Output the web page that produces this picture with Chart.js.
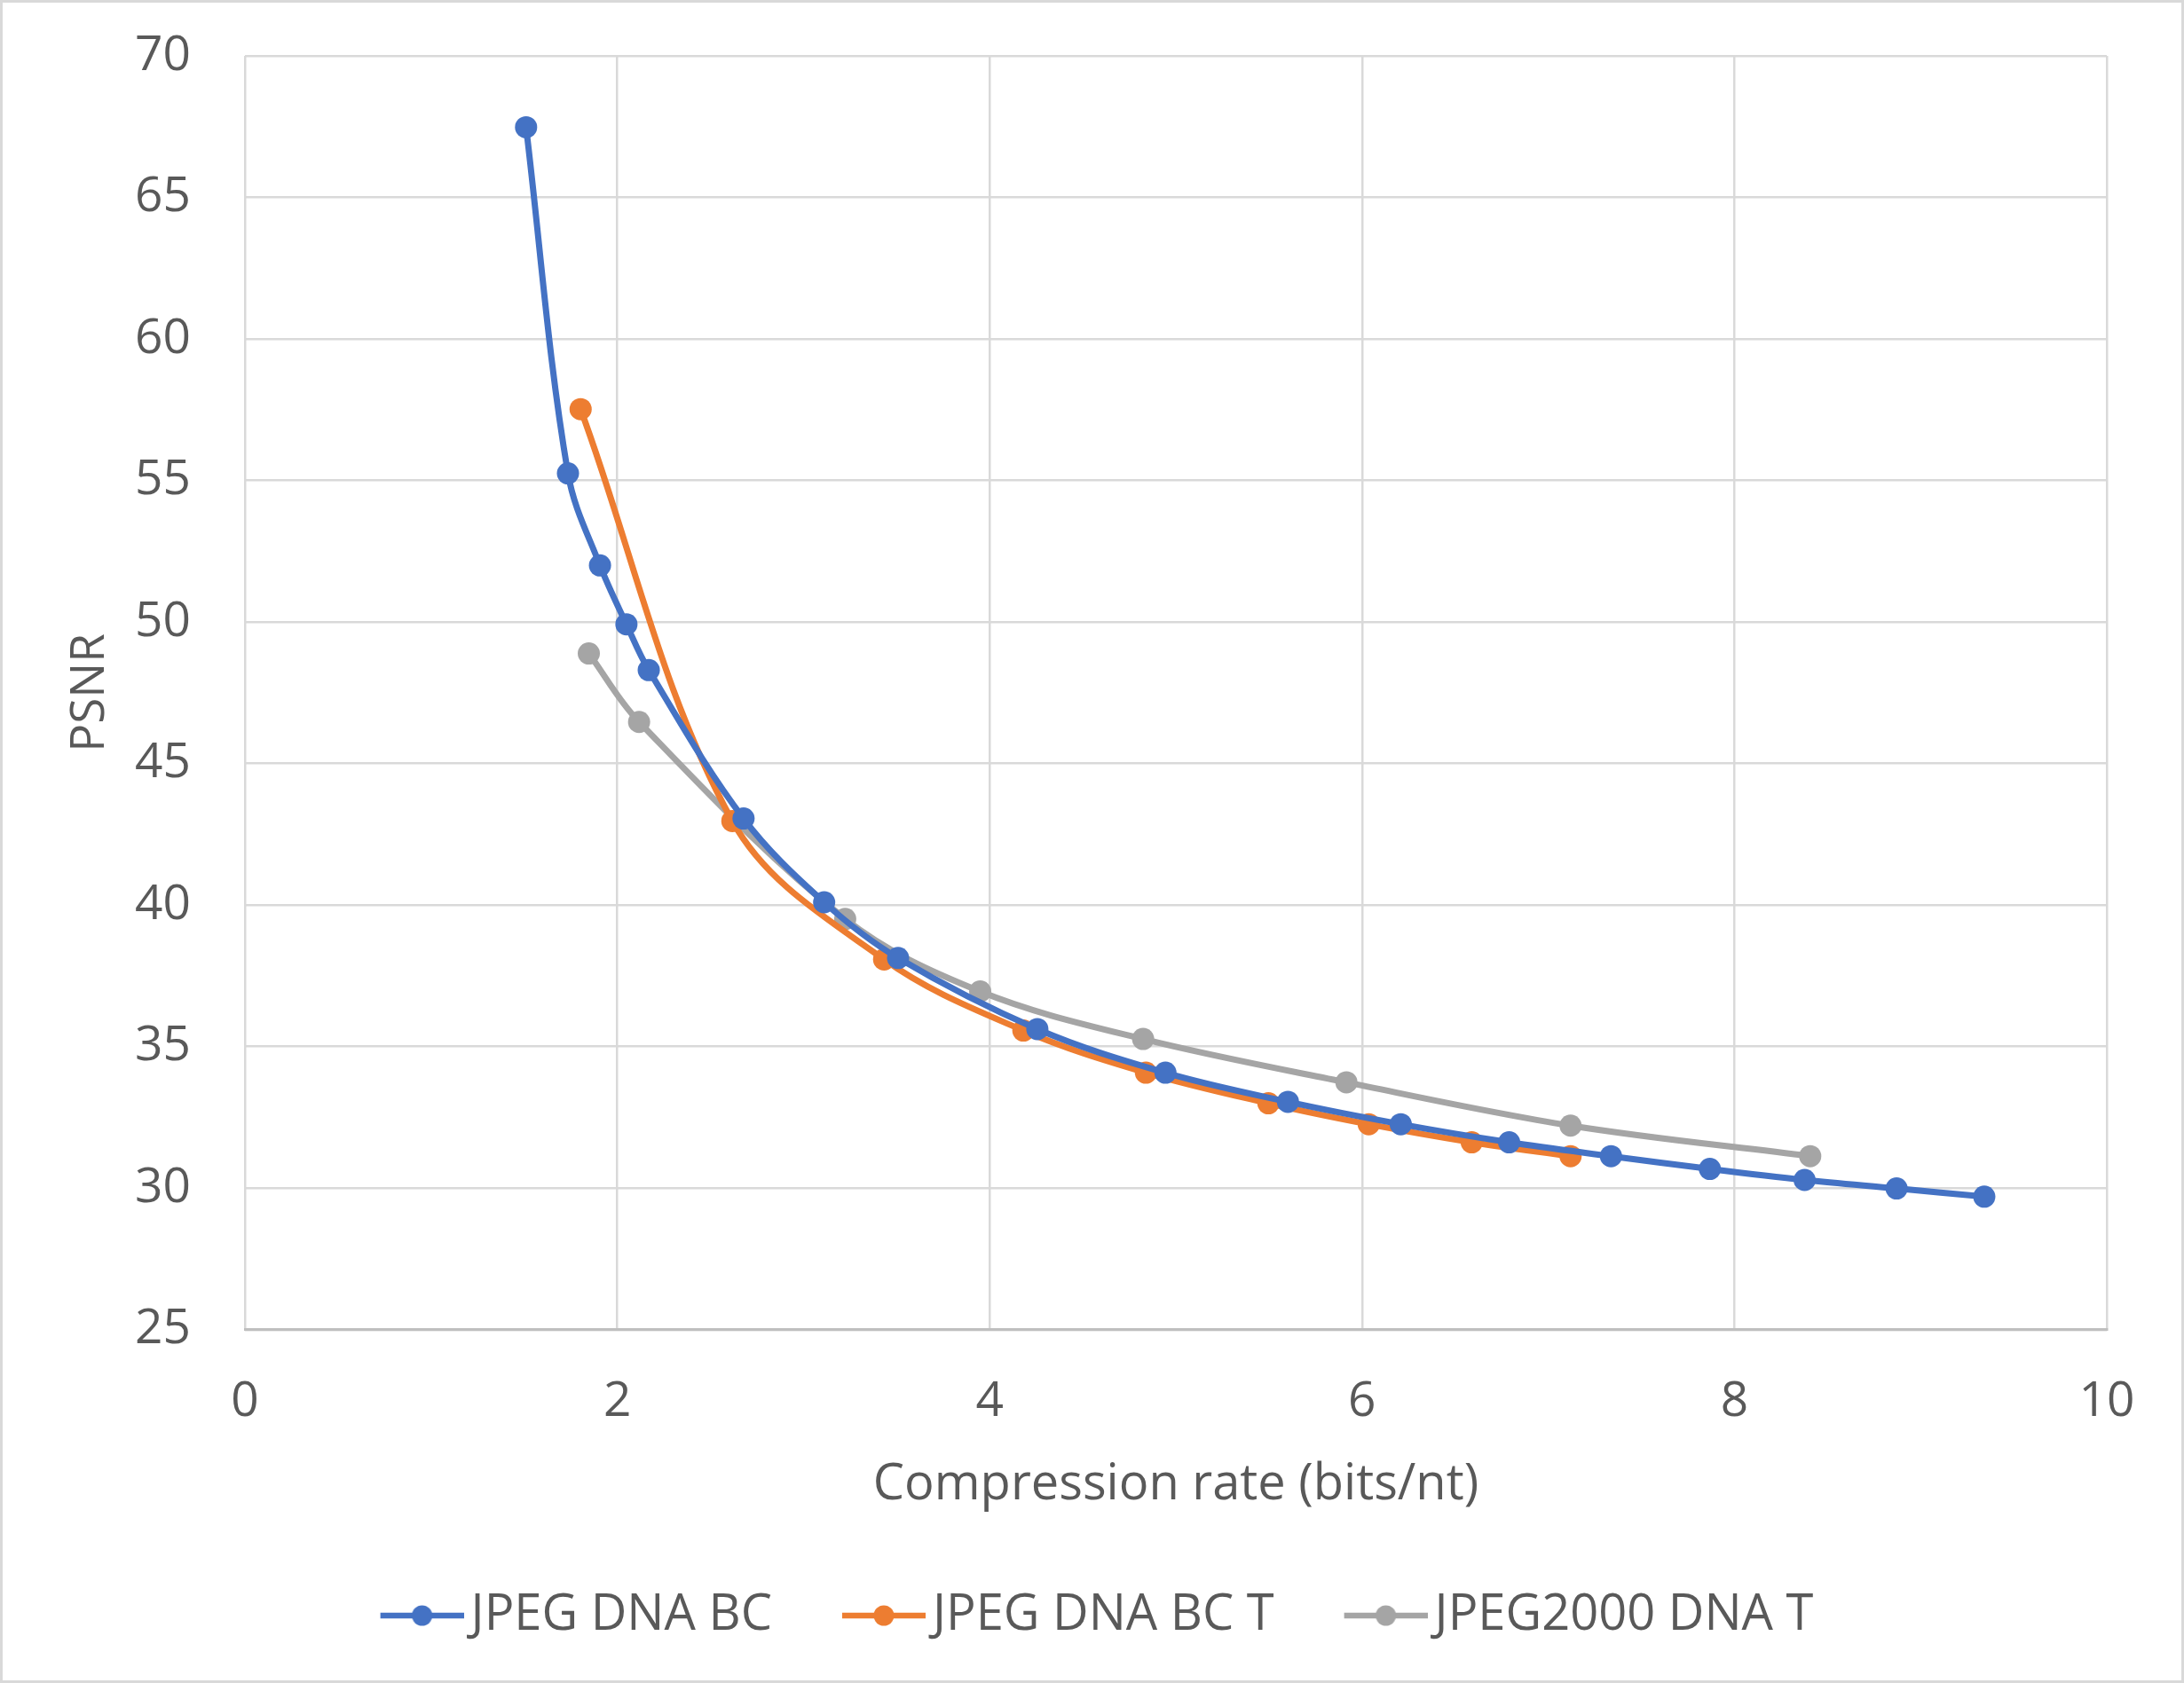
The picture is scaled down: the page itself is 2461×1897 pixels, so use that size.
<!DOCTYPE html>
<html lang="en">
<head>
  <meta charset="UTF-8">
  <title>PSNR vs compression rate</title>
  <script src="https://cdn.jsdelivr.net/npm/chart.js"></script>
  <style>
    html, body { margin: 0; padding: 0; background: #fff; }
    #wrap { width: 2461px; height: 1897px; box-sizing: border-box; border: 3px solid #d9d9d9; }
  </style>
</head>
<body>
  <div id="wrap"><canvas id="graphique" width="2455" height="1891"></canvas></div>

  <script>
    // values
    const seriesNames = ["JPEG DNA BC", "JPEG DNA BC T", "JPEG2000 DNA T"];
    const seriesColors = ["#4472c4", "#ed7d31", "#a5a5a5"];

    const bcRate = [1.51, 1.735, 1.907, 2.049, 2.169, 2.678, 3.111, 3.508, 4.256, 4.944, 5.602, 6.208, 6.79, 7.337, 7.868, 8.377, 8.871, 9.342];
    const bcPsnr = [67.48, 55.25, 52.0, 49.92, 48.3, 43.06, 40.1, 38.13, 35.62, 34.08, 33.05, 32.26, 31.62, 31.13, 30.68, 30.29, 29.99, 29.7];

    const bctRate = [1.803, 2.618, 3.433, 4.181, 4.839, 5.497, 6.036, 6.589, 7.12];
    const bctPsnr = [57.52, 42.97, 38.08, 35.57, 34.08, 33.0, 32.26, 31.62, 31.13];

    const j2kRate = [1.847, 2.117, 3.224, 3.949, 4.824, 5.916, 7.12, 8.407];
    const j2kPsnr = [48.89, 46.47, 39.51, 36.95, 35.27, 33.74, 32.21, 31.13];

    const xTitle = "Compression rate (bits/nt)";
    const yTitle = "PSNR";

    const FONT = "'Open Sans', 'Noto Sans', sans-serif";
    const TXT = "#595959";

    function pts(xs, ys) { return xs.map((x, i) => ({ x: x, y: ys[i] })); }

    // line + dot for the legend, drawn in the right part of a wider canvas
    // so it sits close to the text
    function legendMark(color) {
      const c = document.createElement("canvas");
      c.width = 129; c.height = 26;
      const g = c.getContext("2d");
      g.strokeStyle = color; g.lineWidth = 6.5;
      g.beginPath(); g.moveTo(35, 13); g.lineTo(129, 13); g.stroke();
      g.fillStyle = color;
      g.beginPath(); g.arc(82, 13, 11.5, 0, Math.PI * 2); g.fill();
      return c;
    }

    const allData = [pts(bcRate, bcPsnr), pts(bctRate, bctPsnr), pts(j2kRate, j2kPsnr)];

    new Chart(document.getElementById("graphique"), {
      type: "scatter",
      data: {
        datasets: seriesNames.map((n, i) => ({
          label: n,
          data: allData[i],
          showLine: true,
          borderColor: seriesColors[i],
          backgroundColor: seriesColors[i],
          borderWidth: 7,
          pointRadius: 12.5,
          pointHoverRadius: 12.5,
          pointBorderWidth: 0,
          tension: 0.35
        }))
      },
      options: {
        responsive: false,
        devicePixelRatio: 1,
        animation: false,
        layout: { padding: { left: 80, right: 84, top: 0, bottom: 35 } },
        scales: {
          x: {
            type: "linear", min: 0, max: 10,
            ticks: { stepSize: 2, color: TXT, font: { family: FONT, size: 55 }, padding: 49 },
            grid: { color: "#d9d9d9", lineWidth: 2.5, drawTicks: false },
            border: { color: "#bfbfbf", width: 3 },
            title: { display: true, text: xTitle, color: TXT, font: { family: FONT, size: 56 }, padding: { top: -22, bottom: 21 } }
          },
          y: {
            type: "linear", min: 25, max: 70,
            afterFit: (scale) => { scale.width = 193; scale.paddingTop = 60; },
            ticks: { stepSize: 5, color: TXT, font: { family: FONT, size: 55 }, padding: 61 },
            grid: { color: "#d9d9d9", lineWidth: 2.5, drawTicks: false },
            border: { display: false },
            title: { display: true, text: yTitle, color: TXT, font: { family: FONT, size: 53 }, padding: { top: -13, bottom: 0 } }
          }
        },
        plugins: {
          tooltip: { enabled: false },
          legend: {
            position: "bottom",
            labels: {
              usePointStyle: true,
              pointStyleWidth: 89,
              color: TXT,
              font: { family: FONT, size: 56 },
              padding: 64,
              generateLabels: (chart) => chart.data.datasets.map((ds, i) => ({
                text: ds.label,
                fillStyle: ds.borderColor,
                strokeStyle: ds.borderColor,
                lineWidth: 0,
                pointStyle: legendMark(ds.borderColor),
                fontColor: TXT,
                datasetIndex: i
              }))
            }
          }
        }
      }
    });
  </script>
</body>
</html>
